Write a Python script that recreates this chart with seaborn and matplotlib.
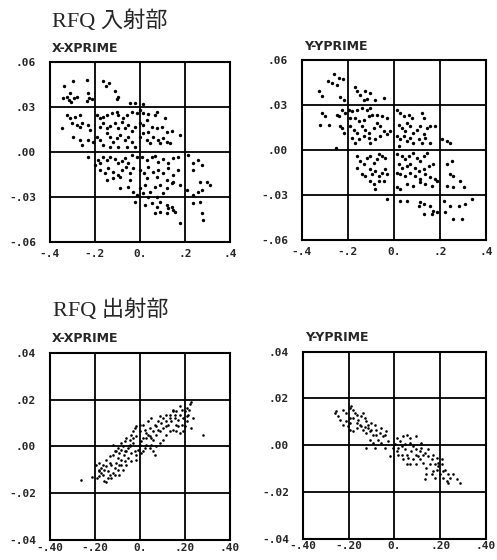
import numpy as np
import pandas as pd
import matplotlib
matplotlib.use("Agg")
import matplotlib.pyplot as plt
import seaborn as sns

# ---------------- data ----------------
# RFQ entrance, X-XPRIME
in_x_pos = [
    -0.338, -0.299, -0.234, -0.163, -0.151, -0.139, -0.111, -0.326, -0.311, -0.341, -0.293, -0.281,
    -0.317, -0.308, -0.230, -0.225, -0.215, -0.234, -0.104, -0.096, -0.044, -0.022, 0.015,
    -0.326, -0.311, -0.289, -0.267, -0.348, -0.304, -0.281, -0.267, -0.259, -0.230, -0.222,
    -0.193, -0.178, -0.163, -0.148, -0.126, -0.104, -0.096, -0.074, -0.059, -0.037, -0.015, 0.0,
    0.015, 0.037, 0.067, 0.074, 0.111,
    -0.178, -0.163, -0.148, -0.133, -0.111, -0.096, -0.081, -0.067, -0.052, -0.037, -0.022, 0.0,
    0.015, 0.030, 0.052, 0.074, 0.096, 0.119, 0.141, 0.178, 0.037,
    -0.296, -0.267, -0.259, -0.230, -0.207, -0.193, -0.178, -0.163, -0.148, -0.133,
    -0.119, -0.104, -0.089, -0.067, -0.052, -0.037, -0.022, 0.0, 0.015, 0.030,
    0.044, 0.059, 0.081, 0.089, 0.104, 0.119, 0.133, -0.059, -0.096, -0.133,
    -0.230, -0.185, -0.178, -0.163, -0.148, -0.133, -0.111, -0.096, -0.081, -0.067,
    -0.052, -0.037, -0.015, 0.007, 0.030, 0.052, 0.067, 0.081, 0.104, 0.126,
    0.148, 0.170, 0.215, 0.237, 0.259, 0.274, -0.2,
    -0.178, -0.156, -0.141, -0.119, -0.096, -0.081, -0.062, -0.044, -0.030, 0.0,
    0.018, 0.037, 0.059, 0.081, 0.104, 0.126, 0.148, 0.170, 0.237,
    -0.148, -0.119, -0.089, -0.044, 0.030, 0.074, 0.119, 0.148, 0.267, 0.296, 0.311,
    -0.089, -0.052, -0.030, 0.0, 0.022, 0.044, 0.067, 0.089, 0.119, 0.141,
    0.178, 0.207, 0.237, 0.259, 0.274, -0.015, 0.015, 0.037, 0.074, 0.104,
    -0.022, 0.022, 0.052, 0.074, 0.089, 0.119, 0.126, 0.141, 0.148,
    0.067, 0.089, 0.119, 0.156, 0.178, 0.237, 0.267, 0.274, 0.281,
]
in_x_ang = [
    0.044, 0.0473, 0.048, 0.0471, 0.0444, 0.0462, 0.0409, 0.0369, 0.0391, 0.0364, 0.0364, 0.0369,
    0.0347, 0.0336, 0.0396, 0.0364, 0.0351, 0.0342, 0.0351, 0.0369, 0.0329, 0.0329, 0.032,
    0.0247, 0.0224, 0.0236, 0.0247, 0.0158, 0.0191, 0.018, 0.0169, 0.0196, 0.018, 0.0147,
    0.0247, 0.0224, 0.0236, 0.0247, 0.0258, 0.0269, 0.0247, 0.0224, 0.0247, 0.0269, 0.0258, 0.028,
    0.0262, 0.0253, 0.0247, 0.0269, 0.0224,
    0.0169, 0.0191, 0.0158, 0.0173, 0.0191, 0.0158, 0.0202, 0.0158, 0.018, 0.0142, 0.0169, 0.0191,
    0.018, 0.0213, 0.0169, 0.0158, 0.0169, 0.0136, 0.0142, 0.0113, 0.0136,
    0.0102, 0.008, 0.0047, 0.008, 0.0069, 0.0102, 0.008, 0.0047, 0.0124, 0.0102,
    0.0069, 0.0091, 0.0113, 0.008, 0.0098, 0.0069, 0.0036, 0.0102, 0.0124, 0.008,
    0.0058, 0.0102, 0.008, 0.0058, 0.0091, 0.0069, 0.0058, 0.0036, 0.0036, 0.0036,
    -0.0031, -0.0053, -0.0076, -0.0031, -0.0053, -0.0031, -0.0049, -0.0076, -0.0058, -0.0042,
    -0.0071, -0.002, -0.0031, -0.0031, -0.0053, -0.0036, -0.0027, -0.0064, -0.0049, -0.0076,
    -0.0042, -0.0031, -0.002, -0.0076, -0.0053, -0.0087, -0.0087,
    -0.012, -0.0142, -0.0109, -0.0131, -0.0153, -0.012, -0.0098, -0.0142, -0.0109, -0.012,
    -0.0142, -0.0102, -0.0131, -0.012, -0.0142, -0.0109, -0.0153, -0.012, -0.012,
    -0.0187, -0.0176, -0.0164, -0.0187, -0.0176, -0.0164, -0.0187, -0.0198, -0.0198, -0.0198, -0.022,
    -0.0242, -0.0231, -0.0264, -0.0242, -0.022, -0.0264, -0.0231, -0.022, -0.0242, -0.0209,
    -0.022, -0.0253, -0.0287, -0.0264, -0.0253, -0.0287, -0.0276, -0.0298, -0.0298, -0.0276,
    -0.0331, -0.0353, -0.0342, -0.0364, -0.0331, -0.0353, -0.0376, -0.0364, -0.0387,
    -0.0409, -0.0398, -0.0409, -0.0398, -0.0471, -0.0342, -0.0331, -0.0409, -0.0453,
]

# RFQ entrance, Y-YPRIME
in_y_pos = [
    -0.262, -0.288, -0.270, -0.241, -0.222, -0.248, -0.327, -0.313, -0.233, -0.219,
    -0.168, -0.161, -0.146, -0.125, -0.103, -0.117, -0.132, -0.081, -0.045,
    -0.313, -0.299, -0.284, -0.320, -0.248, -0.241, -0.226, -0.212, -0.233, -0.226, -0.219, -0.251,
    -0.197, -0.183, -0.161, -0.139, -0.117, -0.103,
    -0.190, -0.168, -0.154, -0.132, -0.110, -0.096, -0.074, -0.052, -0.030,
    -0.190, -0.175, -0.161, -0.139, -0.125, -0.110, -0.088, -0.074, -0.059, -0.045, -0.030, -0.016,
    -0.183, -0.168, -0.154, -0.132, -0.110, -0.103, -0.081, -0.059,
    0.013, 0.028, 0.042, 0.064, 0.078, 0.122, 0.129,
    0.020, 0.035, 0.049, 0.057, 0.071, 0.085, 0.100, 0.114, 0.129, 0.143, 0.158, 0.180,
    0.013, 0.028, 0.042, 0.057, 0.071, 0.085, 0.107, 0.122, 0.136, 0.158, 0.209, 0.230, 0.245, 0.020,
    -0.161, -0.146, -0.132, -0.117, -0.103, -0.088, -0.074, -0.067, -0.052, -0.038,
    -0.161, -0.139, -0.125, -0.103, -0.096, -0.081, -0.067, -0.052, -0.038, -0.030,
    -0.045, -0.067, -0.088, -0.081, -0.103,
    0.013, 0.035, 0.049, 0.064, 0.085, 0.100, 0.114, 0.129, 0.143,
    0.020, 0.035, 0.057, 0.071, 0.093, 0.107, 0.129, 0.151, 0.172,
    0.013, 0.028, 0.049, 0.071, 0.093, 0.114, 0.136, 0.158, 0.180,
    0.013, 0.028, 0.057, 0.085, 0.114, 0.136, 0.165, 0.187,
    0.230, 0.252, 0.245, 0.259, 0.288, 0.230, 0.259, 0.303,
    -0.030, 0.028, 0.057, 0.114, 0.129, 0.158, 0.107, 0.172, 0.165, 0.187, 0.129,
    0.216, 0.245, 0.281, 0.310, 0.339, 0.223, 0.259, 0.296,
]
in_y_ang = [
    0.051, 0.0464, 0.0453, 0.0481, 0.0475, 0.0433, 0.0397, 0.036, 0.0355, 0.0338,
    0.0426, 0.0393, 0.0371, 0.0393, 0.0386, 0.0342, 0.0338, 0.0338, 0.0349,
    0.025, 0.0227, 0.0172, 0.0172, 0.0238, 0.0227, 0.0272, 0.025, 0.0161, 0.015, 0.0117, 0.0018,
    0.0272, 0.0261, 0.0272, 0.0283, 0.0272, 0.0283,
    0.0216, 0.0216, 0.0194, 0.0205, 0.0227, 0.0238, 0.0238, 0.0227, 0.0216,
    0.0161, 0.0139, 0.0117, 0.0161, 0.0139, 0.0117, 0.015, 0.0183, 0.0161, 0.0128, 0.0106, 0.0128,
    0.0084, 0.0051, 0.0073, 0.0095, 0.0084, 0.0051, 0.0073, 0.0095,
    0.0272, 0.025, 0.0227, 0.0238, 0.0216, 0.025, 0.0216,
    0.0172, 0.015, 0.0128, 0.0183, 0.0161, 0.0117, 0.0139, 0.0161, 0.0106, 0.015, 0.0161, 0.0161,
    0.0095, 0.0073, 0.0095, 0.0062, 0.0084, 0.0051, 0.0073, 0.0051, 0.0084, 0.0051, 0.0073, 0.0062, 0.0046, 0.0029,
    -0.0038, -0.0071, -0.0093, -0.0049, -0.0038, -0.0082, -0.006, -0.0026, -0.0038, -0.0049,
    -0.0115, -0.0159, -0.017, -0.0126, -0.0159, -0.0137, -0.017, -0.0148, -0.0126, -0.0159,
    -0.0203, -0.0203, -0.0225, -0.0258, -0.0203,
    -0.0026, -0.0038, -0.006, -0.0038, -0.0015, -0.0049, -0.0071, -0.0038, -0.0015,
    -0.0093, -0.0115, -0.0104, -0.0093, -0.0115, -0.0137, -0.0126, -0.0104, -0.0093,
    -0.0148, -0.0159, -0.017, -0.0148, -0.017, -0.0192, -0.0159, -0.0181, -0.0192,
    -0.0247, -0.0258, -0.0225, -0.0236, -0.0214, -0.0225, -0.0236, -0.0203,
    -0.0093, -0.0071, -0.0159, -0.017, -0.0203, -0.0236, -0.0247, -0.0247,
    -0.0325, -0.0336, -0.0336, -0.0347, -0.0358, -0.0369, -0.0369, -0.0402, -0.0424, -0.0413, -0.0424,
    -0.0336, -0.0369, -0.0369, -0.0358, -0.0325, -0.0413, -0.0457, -0.0457,
]

# RFQ exit, X-XPRIME
out_x_pos = [
    -0.262, -0.213, -0.192, -0.162, -0.153, -0.180, -0.173, -0.165, -0.150, -0.135,
    -0.121, -0.180, -0.158, -0.143, -0.135, -0.121, -0.113, -0.106, -0.098, -0.091,
    -0.083, -0.076, -0.068, -0.061, -0.046, -0.039, -0.031, -0.024, -0.016, -0.001,
    0.013, 0.021, 0.028, 0.036, 0.043, 0.051, 0.058, 0.073, 0.080, 0.088,
    0.103, 0.118, 0.125, 0.132, 0.147, 0.155, 0.162, 0.170, 0.177, 0.185,
    0.192, 0.199, 0.207, 0.222, 0.229, 0.237, 0.281, -0.128, -0.113, -0.098,
    -0.091, -0.083, -0.073, -0.061, -0.054, -0.043, -0.031, -0.024, -0.016, -0.009,
    -0.001, 0.006, 0.013, 0.028, 0.043, 0.058, 0.065, 0.073, 0.088, 0.103,
    0.118, 0.132, 0.147, 0.162, 0.177, 0.103, 0.088, 0.073, 0.058, 0.043,
    0.036, 0.051, 0.065, 0.080, 0.118, 0.140, 0.155, 0.170, 0.185, 0.199,
    0.207, 0.214, 0.147, 0.132, 0.118, 0.095, 0.051, 0.021, 0.006, -0.016,
    -0.039, -0.061, -0.076, -0.091, -0.039, -0.054, -0.068, -0.106, -0.121, -0.135,
    -0.150, -0.165, -0.180, -0.083, -0.098, -0.113, 0.028, 0.013, -0.001, -0.016,
    -0.031, -0.046, -0.068, -0.083, -0.128, -0.143, -0.195, -0.183, -0.173, 0.207,
    0.219, 0.225, 0.192, 0.177, 0.162,
]
out_x_ang = [
    -0.0143, -0.0133, -0.0136, -0.0147, -0.0153, -0.0107, -0.0093, -0.0079, -0.0057, -0.0043,
    0.0007, -0.0071, -0.01, -0.0107, -0.0121, -0.0114, -0.0093, -0.0071, -0.005, -0.0029,
    -0.0014, 0.0, 0.0021, 0.0036, 0.0029, 0.005, 0.0064, 0.0079, 0.0086, 0.0093,
    0.0093, 0.0071, 0.0057, 0.005, 0.0043, 0.0036, 0.0029, 0.0086, 0.0107, 0.0129,
    0.0121, 0.0107, 0.0093, 0.0136, 0.015, 0.0121, 0.0093, 0.0086, 0.0136, 0.0157,
    0.0121, 0.015, 0.0164, 0.0179, 0.019, 0.0121, 0.005, -0.0079, -0.0121, -0.01,
    -0.0079, -0.0057, -0.0039, -0.0021, -0.0007, 0.0, 0.0014, -0.0021, -0.0036, -0.0014,
    0.0007, 0.0021, 0.0036, 0.0007, -0.0007, -0.0021, -0.0036, 0.0, 0.0014, 0.0029,
    0.005, 0.0064, 0.0071, 0.0064, 0.0057, 0.0079, 0.0064, 0.005, 0.0064, 0.0079,
    0.0107, 0.0121, 0.0093, 0.0071, 0.0086, 0.0107, 0.0136, 0.0114, 0.0093, 0.0086,
    0.0107, 0.0136, 0.0157, 0.0121, 0.0136, 0.01, 0.0007, -0.0007, -0.0029, -0.0057,
    -0.0064, -0.0079, -0.01, -0.0121, -0.0029, -0.005, -0.0064, -0.0021, -0.0036, -0.0071,
    -0.0086, -0.0121, -0.0129, 0.0014, -0.0007, -0.0021, 0.0036, -0.0021, 0.0064, 0.0043,
    0.0036, 0.0007, -0.0021, -0.0079, -0.0136, -0.0136, -0.0079, -0.01, -0.0114, 0.0129,
    0.0157, 0.0079, 0.0064, 0.0171, 0.015,
]

# RFQ exit, Y-YPRIME
out_y_pos = [
    -0.261, -0.247, -0.239, -0.254, -0.225, -0.210, -0.196, -0.188, -0.181, -0.174,
    -0.166, -0.196, -0.181, -0.159, -0.145, -0.137, -0.130, -0.123, -0.115, -0.101,
    -0.086, -0.203, -0.196, -0.181, -0.166, -0.152, -0.137, -0.123, -0.108, -0.093,
    -0.079, -0.064, -0.050, -0.035, -0.072, -0.057, -0.042, -0.028, -0.108, -0.093,
    -0.123, -0.086, -0.210, -0.225, -0.196, -0.166, -0.145, -0.130, -0.115, -0.101,
    -0.079, -0.057, -0.042,
    0.009, 0.023, 0.038, 0.053, 0.067, 0.096, -0.006, 0.009, 0.016, -0.020,
    0.001, 0.031, 0.045, 0.053, 0.060, 0.074, 0.082, 0.096, 0.104, 0.111,
    0.126, 0.140, 0.118, 0.133, 0.147, 0.162, 0.177, 0.184, 0.155, 0.140,
    0.133, 0.162, 0.169, 0.191, 0.206, 0.221, 0.235, 0.242, 0.257, 0.272,
    0.286, 0.213, 0.228, 0.235, 0.199, 0.177, 0.096, 0.082, 0.067, 0.053,
    0.038, 0.031, 0.016, 0.045, 0.067, 0.118, 0.111, 0.126, 0.096, 0.147,
    0.169, 0.184, 0.191, 0.206, 0.213,
]
out_y_ang = [
    0.0138, 0.0124, 0.0109, 0.0145, 0.0152, 0.0138, 0.0159, 0.0166, 0.0152, 0.0138,
    0.0131, 0.0116, 0.0116, 0.0109, 0.0124, 0.0138, 0.0116, 0.0102, 0.0088, 0.0095,
    0.0088, 0.0081, 0.0067, 0.006, 0.0074, 0.0088, 0.0067, 0.0053, 0.006, 0.0045,
    0.0045, 0.0053, 0.0038, 0.006, 0.0024, 0.001, -0.0011, 0.0017, 0.0024, 0.001,
    -0.0011, -0.0011, 0.0102, 0.0088, 0.0095, 0.0095, 0.0081, 0.0077, 0.0074, 0.0067,
    0.0067, 0.0074, 0.0045,
    0.0031, 0.0017, 0.0038, 0.0045, 0.0031, 0.0038, -0.0011, -0.0026, -0.004, -0.0047,
    0.0003, -0.0004, -0.0018, -0.004, -0.0054, -0.0026, -0.0004, -0.0018, -0.0047, -0.0061,
    -0.0075, -0.0097, -0.0011, -0.0033, -0.0047, -0.0061, -0.0082, -0.0104, -0.0082, -0.0125,
    -0.0146, -0.0125, -0.0111, -0.0089, -0.0082, -0.0104, -0.0125, -0.0139, -0.0125, -0.0146,
    -0.016, -0.0139, -0.0153, -0.016, -0.0125, -0.0139, -0.0082, -0.0061, -0.0082, -0.0082,
    -0.0061, -0.004, -0.0011, 0.0003, 0.001, 0.001, -0.0026, -0.004, -0.004, -0.0018,
    -0.004, -0.0054, -0.0075, -0.0061, -0.0111,
]

# axis ticks and labels
in_xticks = [-0.4, -0.2, 0.0, 0.2, 0.4]
in_xticklabels = ["-.4", "-.2", "0.", ".2", ".4"]
in_yticks = [-0.06, -0.03, 0.0, 0.03, 0.06]
in_yticklabels = ["-.06", "-.03", ".00", ".03", ".06"]
out_xticks = [-0.4, -0.2, 0.0, 0.2, 0.4]
out_xticklabels = ["-.40", "-.20", "0.", ".20", ".40"]
out_yticks = [-0.04, -0.02, 0.0, 0.02, 0.04]
out_yticklabels = ["-.04", "-.02", ".00", ".02", ".04"]

# ---------------- figure ----------------
sns.set_style("white")
plt.rcParams['font.family'] = ['DejaVu Sans', 'Noto Sans CJK JP']

fig = plt.figure(figsize=(4.97, 5.6), dpi=100)

panels = [
    # rect, x, y, xticks, xlabels, yticks, ylabels, subtitle, dot size, x pad
    ([0.1006, 0.568, 0.362, 0.321], in_x_pos, in_x_ang, in_xticks, in_xticklabels,
     in_yticks, in_yticklabels, "X-XPRIME", 6, 5),
    ([0.6076, 0.571, 0.370, 0.321], in_y_pos, in_y_ang, in_xticks, in_xticklabels,
     in_yticks, in_yticklabels, "Y-YPRIME", 6, 5),
    ([0.1006, 0.036, 0.362, 0.334], out_x_pos, out_x_ang, out_xticks, out_xticklabels,
     out_yticks, out_yticklabels, "X-XPRIME", 3.5, 2),
    ([0.6097, 0.038, 0.368, 0.334], out_y_pos, out_y_ang, out_xticks, out_xticklabels,
     out_yticks, out_yticklabels, "Y-YPRIME", 3.5, 2),
]

tick_font = dict(family='DejaVu Sans Mono', weight='bold', size=8)

for rect, xs, ys, xt, xtl, yt, ytl, sub, dot, xpad in panels:
    ax = fig.add_axes(rect)
    df = pd.DataFrame({"pos": xs, "ang": ys})
    sns.scatterplot(data=df, x="pos", y="ang", ax=ax, color="black", s=dot,
                    linewidth=0, marker="o", zorder=3)
    ax.set_xlim(xt[0], xt[-1])
    ax.set_ylim(yt[0], yt[-1])
    ax.set_xticks(xt)
    ax.set_yticks(yt)
    ax.set_xticklabels(xtl, fontdict=tick_font)
    ax.set_yticklabels(ytl, fontdict=tick_font)
    ax.tick_params(axis='x', length=0, pad=xpad)
    ax.tick_params(axis='y', length=0, pad=10)
    ax.set_xlabel("")
    ax.set_ylabel("")
    ax.grid(True, color="black", linewidth=1.3)
    ax.set_axisbelow(True)
    for sp in ax.spines.values():
        sp.set_color("black")
        sp.set_linewidth(1.5)
    ax.text(0.01, 1.04, sub, transform=ax.transAxes, ha="left", va="bottom",
            fontsize=9, fontweight="bold", family="DejaVu Sans")

title_font = ['Liberation Serif', 'Noto Sans CJK JP']
fig.text(0.105, 0.962, "RFQ 入射部", family=title_font, fontsize=16,
         ha="left", va="center")
fig.text(0.107, 0.446, "RFQ 出射部", family=title_font, fontsize=16,
         ha="left", va="center")

fig.savefig("out.png", dpi=100, facecolor="white")
